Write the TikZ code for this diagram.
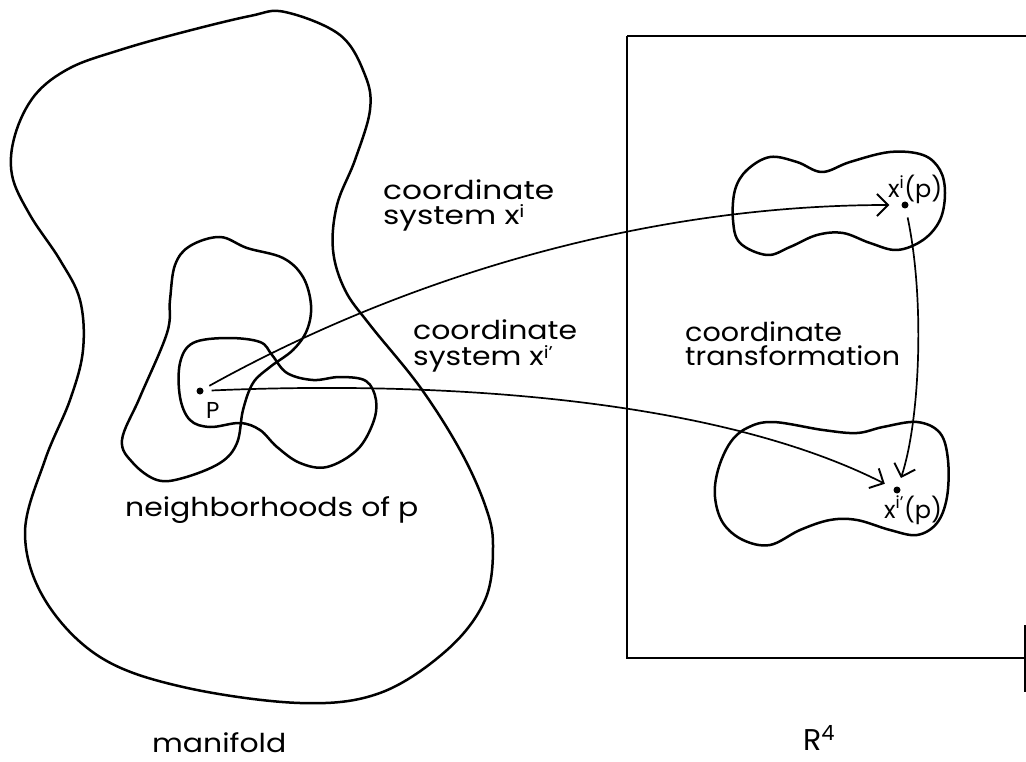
\documentclass[tikz,border=0pt]{standalone}
\usepackage{fontspec}
\setmainfont{Poppins}
\usetikzlibrary{arrows.meta}
\newcommand{\supi}[1]{\raisebox{0.3em}{\fontsize{17}{17}\selectfont #1}}
\begin{document}
\begin{tikzpicture}[x=1pt,y=-1pt,
  outline/.style={line width=2.5pt, line join=round},
  conn/.style={line width=1.7pt, -{Straight Barb[length=11pt,width=22pt,line width=1.9pt]}},
  dotnode/.style={circle, fill, inner sep=0pt, minimum size=7pt},
  lbl/.style={font=\fontsize{26}{22}\selectfont, inner sep=0pt, anchor=north west, align=left},
  ptlbl/.style={font=\fontsize{24}{26}\selectfont, inner sep=0pt, anchor=base west}]
\useasboundingbox (0,0) rectangle (1026,762);

% manifold
\draw[outline] plot[smooth cycle, tension=0.6] coordinates {
 (285,12) (340,35) (365,75) (370,110) (355,160) (337,205) (333,250) (345,290)
 (370,325) (420,387) (460,450) (485,505) (493,545) (485,600) (447,650) (380,693)
 (300,703) (183,687) (100,657) (45,600) (25,533) (45,460) (70,400) (83,350)
 (80,300) (60,260) (30,215) (12,175) (15,135) (35,95) (70,68) (120,50) (180,33) (250,16)};

% neighbourhood 1 (upper)
\draw[outline] plot[smooth cycle, tension=0.6] coordinates {
 (220,237) (247,248) (283,258) (303,277) (311,305) (307,330) (293,350) (270,367)
 (253,383) (243,410) (237,443) (220,463) (183,478) (157,480) (133,463) (122,440)
 (140,397) (167,333) (170,300) (175,265) (190,246)};

% neighbourhood 2 (with p)
\draw[outline] plot[smooth cycle, tension=0.6] coordinates {
 (180,363) (193,343) (227,338) (260,342) (272,355) (287,373) (313,380) (340,377)
 (366,381) (376,400) (373,423) (357,450) (327,467) (300,463) (277,447) (260,430)
 (240,423) (210,427) (190,420) (180,397)};

% R^4 box (right edge lies at the picture's border)
\draw[line width=1.9pt] (627,36) -- (1026,36);
\draw[line width=1.9pt] (627,36) -- (627,658) -- (1025,658);
\draw[line width=1.9pt] (1025,625) -- (1025,692);

% image blobs
\draw[outline] plot[smooth cycle, tension=0.6] coordinates {
 (747,170) (770,157) (797,162) (822,172) (850,162) (890,152) (923,155) (940,170)
 (945,193) (940,220) (923,240) (897,250) (870,243) (843,233) (817,235) (790,247)
 (767,255) (740,243) (733,220) (735,190)};
\draw[outline] plot[smooth cycle, tension=0.6] coordinates {
 (747,428) (773,422) (823,430) (857,433) (883,427) (917,422) (940,433) (948,460)
 (947,497) (937,523) (917,535) (890,530) (857,520) (830,520) (800,530) (770,545)
 (743,540) (723,523) (715,497) (718,470) (730,443)};

% points
\node[dotnode] (p) at (200,391) {};
\node[dotnode] (xi) at (905,205) {};
\node[dotnode] (xip) at (897,490) {};

\node[font=\fontsize{23}{25}\selectfont, inner sep=0pt, anchor=base west] (plbl) at (206,418) {P};
\node[ptlbl] (xilbl) at (888,198) {x\textsuperscript{i}(p)};
\node[ptlbl] (xiplbl) at (884,518) {x\textsuperscript{i'}(p)};

% connectors
\draw[conn, shorten <=7pt, shorten >=12pt] (p) .. controls (400,280) and (640,205) .. (xi);
\draw[conn, shorten <=8pt, shorten >=10pt] (p) .. controls (450,380) and (720,400) .. (xip);
\draw[conn, shorten <=9pt, shorten >=9pt] (xi) .. controls (925,300) and (920,420) .. (xip);

% labels
\node[lbl] (cs1) at (383,180) {\scalebox{1.2}[1]{coordinate}\\[3pt]\scalebox{1.2}[1]{system x\supi{i}}};
\node[lbl] (cs2) at (413,320) {\scalebox{1.15}[1]{coordinate}\\[4pt]\scalebox{1.15}[1]{system x\supi{i'}}};
\node[lbl] (ct) at (685,322) {\scalebox{1.1}[1]{coordinate}\\[2pt]\scalebox{1.1}[1]{transformation}};
\node[lbl, anchor=base west] (nb) at (125,516) {\scalebox{1.15}[1]{neighborhoods of p}};
\node[lbl, anchor=base west] (mf) at (152,752) {\scalebox{1.15}[1]{manifold}};
\node[font=\fontsize{30}{32}\selectfont, inner sep=0pt, anchor=base west] (r4) at (803,750) {R\textsuperscript{4}};
\end{tikzpicture}
\end{document}
